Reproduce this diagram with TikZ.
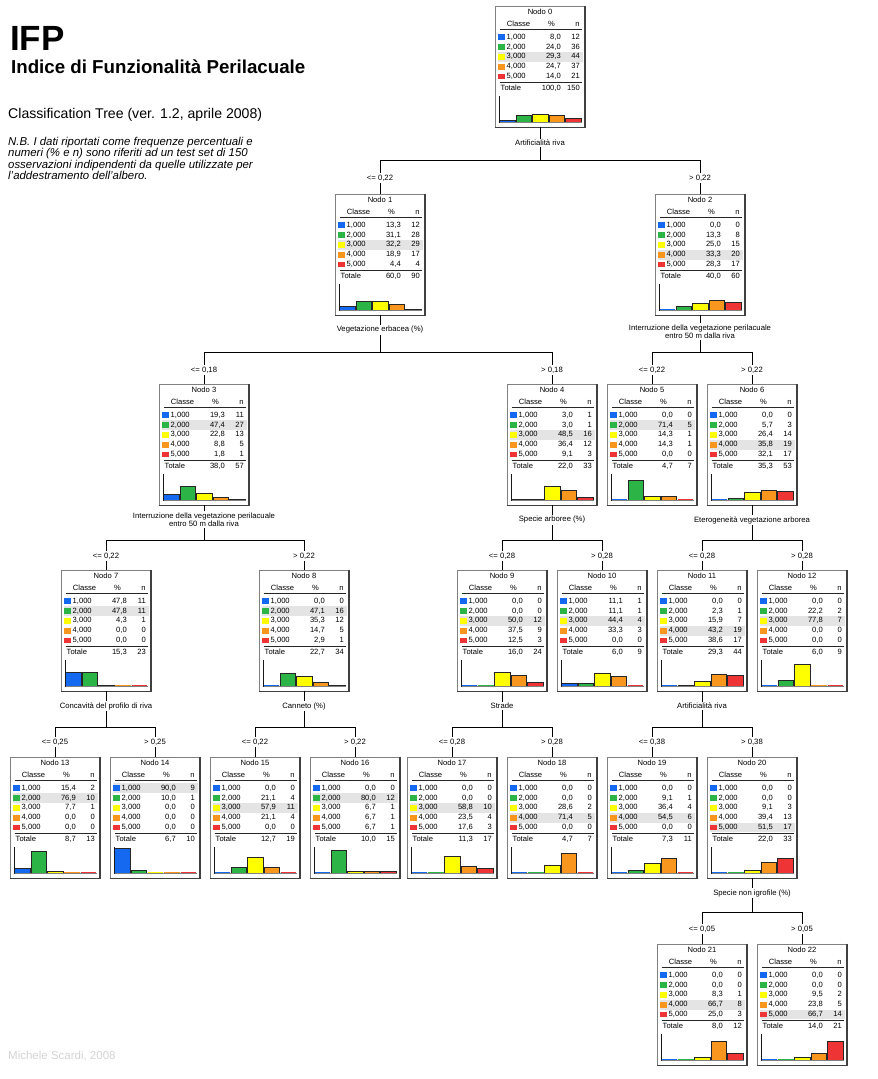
\documentclass[tikz,border=0pt]{standalone}
\usepackage{fontspec}
\setmainfont{Liberation Sans}
\definecolor{clr1}{RGB}{20,105,240}
\definecolor{clr2}{RGB}{45,180,70}
\definecolor{clr3}{RGB}{255,255,0}
\definecolor{clr4}{RGB}{248,150,30}
\definecolor{clr5}{RGB}{238,52,52}
\definecolor{hlc}{RGB}{228,228,228}
\tikzset{
  nodebox/.style={draw=black!50,line width=0.6pt,minimum width=89pt,minimum height=121pt,inner sep=0pt},
  boxshade/.style={draw=black!75,line width=1.5pt},
  txt/.style={inner sep=0pt,text height=5.3pt,text depth=1.5pt,font=\fontsize{7.6}{8}\selectfont},
  ttl/.style={txt},
  rulel/.style={line width=0.9pt,black!85},
  conn/.style={line width=0.8pt,black},
  slab/.style={fill=white,inner sep=1.2pt,align=center,font=\fontsize{7.7}{8.4}\selectfont},
  blab/.style={fill=white,inner sep=1.5pt,font=\fontsize{7.7}{8}\selectfont},
  bar/.style={draw=black!85,line width=0.5pt}
}
\newcommand\treeNode[8]{%
\begin{scope}[shift={(#2-44.5,#3)}]
 \node[nodebox] (#1) at (44.5,60.5) {};
 \draw[boxshade] (#1.north east) -- (#1.south east) -- (#1.south west);
 \fill[hlc] (2,{31.3+9.8*(#5-1)-4.9}) rectangle (87,{31.3+9.8*(#5-1)+4.9});
 \node[ttl] at (44.5,7) {Nodo #4};
 \node[txt] at (23,18.2) {Classe};
 \node[txt] at (56,18.2) {\%};
 \node[txt] at (82,18.2) {n};
 \draw[rulel] (4,23.5) -- (86,23.5);
 \foreach \a/\b/\n [count=\i] in {#6}{%
   \pgfmathsetmacro\yy{31.3+9.8*(\i-1)}
   \fill[clr\i] (2.5,\yy-2.9) rectangle (9.5,\yy+2.9);
   \node[txt,anchor=west] at (11,\yy) {\i,000};
   \node[txt,anchor=east] at (65.5,\yy) {\a,\b};
   \node[txt,anchor=east] at (84.5,\yy) {\n};
   \pgfmathsetmacro\hh{(\a.\b)*0.28}
   \pgfmathsetmacro\bx{4+16.5*(\i-1)}
   \ifdim\hh pt>0.01pt
     \filldraw[bar,fill=clr\i] (\bx,116) rectangle (\bx+15.6,116-\hh);
   \else
     \draw[clr\i,line width=1pt] (\bx,115.6) -- (\bx+15.6,115.6);
   \fi
 }
 \draw[rulel] (4,76.5) -- (86,76.5);
 \node[txt,anchor=west] at (5,83) {Totale};
 \node[txt,anchor=east] at (65.5,83) {#7};
 \node[txt,anchor=east] at (84.5,83) {#8};
 \draw[black!50,line width=0.6pt] (3,116.3) -- (86,116.3);
 \draw[black!90,line width=0.7pt] (3.5,90) -- (3.5,116.6);
\end{scope}}
\newcommand\treeSplit[9]{%
 \draw[conn] (#1.south) -- (#1.south |- 0,#2);
 \draw[conn] (#5.north) -- (#5.north |- 0,#2) -- (#6.north |- 0,#2) -- (#6.north);
 \node[slab] at (#1.south |- 0,#3) {#4};
 \node[blab] at (#5.north |- 0,#7) {#8};
 \node[blab] at (#6.north |- 0,#7) {#9};
}
\begin{document}
\begin{tikzpicture}[x=1pt,y=-1pt]
\useasboundingbox (0,0) rectangle (878,1079);
\fill[white] (0,0) rectangle (878,1079);
% header texts
\node[anchor=base west,inner sep=0pt,font=\bfseries\fontsize{35}{35}\selectfont] (tA) at (10,50) {IFP};
\node[anchor=base west,inner sep=0pt,font=\bfseries\fontsize{18.7}{18.7}\selectfont] (tB) at (11,73.3) {Indice di Funzionalità Perilacuale};
\node[anchor=base west,inner sep=0pt,font=\fontsize{14.1}{14.1}\selectfont] (tC) at (8,118.3) {Classification Tree (ver. 1.2, aprile 2008)};
\node[anchor=base west,inner sep=0pt,font=\itshape\fontsize{11.4}{11.5}\selectfont] (tD1) at (8,145) {N.B. I dati riportati come frequenze percentuali e};
\node[anchor=base west,inner sep=0pt,font=\itshape\fontsize{11.4}{11.5}\selectfont] (tD2) at (8,156.5) {numeri (\% e n) sono riferiti ad un test set di 150};
\node[anchor=base west,inner sep=0pt,font=\itshape\fontsize{11.4}{11.5}\selectfont] (tD3) at (8,168) {osservazioni indipendenti da quelle utilizzate per};
\node[anchor=base west,inner sep=0pt,font=\itshape\fontsize{11.4}{11.5}\selectfont] (tD4) at (8,179.5) {l'addestramento dell'albero.};
\node[anchor=base west,inner sep=0pt,text=black!17,font=\fontsize{11.5}{11.5}\selectfont] (tE) at (8,1059) {Michele Scardi, 2008};
% nodes
\treeNode{n0}{540}{6}{0}{3}{8/0/12,24/0/36,29/3/44,24/7/37,14/0/21}{100,0}{150}
\treeNode{n1}{380}{194}{1}{3}{13/3/12,31/1/28,32/2/29,18/9/17,4/4/4}{60,0}{90}
\treeNode{n2}{700}{194}{2}{4}{0/0/0,13/3/8,25/0/15,33/3/20,28/3/17}{40,0}{60}
\treeNode{n3}{204}{384}{3}{2}{19/3/11,47/4/27,22/8/13,8/8/5,1/8/1}{38,0}{57}
\treeNode{n4}{552}{384}{4}{3}{3/0/1,3/0/1,48/5/16,36/4/12,9/1/3}{22,0}{33}
\treeNode{n5}{652}{384}{5}{2}{0/0/0,71/4/5,14/3/1,14/3/1,0/0/0}{4,7}{7}
\treeNode{n6}{752}{384}{6}{4}{0/0/0,5/7/3,26/4/14,35/8/19,32/1/17}{35,3}{53}
\treeNode{n7}{106}{570}{7}{2}{47/8/11,47/8/11,4/3/1,0/0/0,0/0/0}{15,3}{23}
\treeNode{n8}{304}{570}{8}{2}{0/0/0,47/1/16,35/3/12,14/7/5,2/9/1}{22,7}{34}
\treeNode{n9}{502}{570}{9}{3}{0/0/0,0/0/0,50/0/12,37/5/9,12/5/3}{16,0}{24}
\treeNode{n10}{602}{570}{10}{3}{11/1/1,11/1/1,44/4/4,33/3/3,0/0/0}{6,0}{9}
\treeNode{n11}{702}{570}{11}{4}{0/0/0,2/3/1,15/9/7,43/2/19,38/6/17}{29,3}{44}
\treeNode{n12}{802}{570}{12}{3}{0/0/0,22/2/2,77/8/7,0/0/0,0/0/0}{6,0}{9}
\treeNode{n13}{55}{757}{13}{2}{15/4/2,76/9/10,7/7/1,0/0/0,0/0/0}{8,7}{13}
\treeNode{n14}{155}{757}{14}{1}{90/0/9,10/0/1,0/0/0,0/0/0,0/0/0}{6,7}{10}
\treeNode{n15}{255}{757}{15}{3}{0/0/0,21/1/4,57/9/11,21/1/4,0/0/0}{12,7}{19}
\treeNode{n16}{355}{757}{16}{2}{0/0/0,80/0/12,6/7/1,6/7/1,6/7/1}{10,0}{15}
\treeNode{n17}{452}{757}{17}{3}{0/0/0,0/0/0,58/8/10,23/5/4,17/6/3}{11,3}{17}
\treeNode{n18}{552}{757}{18}{4}{0/0/0,0/0/0,28/6/2,71/4/5,0/0/0}{4,7}{7}
\treeNode{n19}{652}{757}{19}{4}{0/0/0,9/1/1,36/4/4,54/5/6,0/0/0}{7,3}{11}
\treeNode{n20}{752}{757}{20}{5}{0/0/0,0/0/0,9/1/3,39/4/13,51/5/17}{22,0}{33}
\treeNode{n21}{702}{944}{21}{4}{0/0/0,0/0/0,8/3/1,66/7/8,25/0/3}{8,0}{12}
\treeNode{n22}{802}{944}{22}{5}{0/0/0,0/0/0,9/5/2,23/8/5,66/7/14}{14,0}{21}
% splits
\treeSplit{n0}{160}{143}{Artificialità riva}{n1}{n2}{178}{<= 0,22}{> 0,22}
\treeSplit{n1}{352}{330}{Vegetazione erbacea (\%)}{n3}{n4}{370}{<= 0,18}{> 0,18}
\treeSplit{n2}{352}{331.5}{Interruzione della vegetazione perilacuale\\entro 50 m dalla riva}{n5}{n6}{370}{<= 0,22}{> 0,22}
\treeSplit{n3}{540}{519.5}{Interruzione della vegetazione perilacuale\\entro 50 m dalla riva}{n7}{n8}{556}{<= 0,22}{> 0,22}
\treeSplit{n4}{540}{520}{Specie arboree (\%)}{n9}{n10}{556}{<= 0,28}{> 0,28}
\treeSplit{n6}{540}{520}{Eterogeneità vegetazione arborea}{n11}{n12}{556}{<= 0,28}{> 0,28}
\treeSplit{n7}{727}{706}{Concavità del profilo di riva}{n13}{n14}{742}{<= 0,25}{> 0,25}
\treeSplit{n8}{727}{706}{Canneto (\%)}{n15}{n16}{742}{<= 0,22}{> 0,22}
\treeSplit{n9}{727}{706}{Strade}{n17}{n18}{742}{<= 0,28}{> 0,28}
\treeSplit{n11}{727}{706}{Artificialità riva}{n19}{n20}{742}{<= 0,38}{> 0,38}
\treeSplit{n20}{912}{893}{Specie non igrofile (\%)}{n21}{n22}{929}{<= 0,05}{> 0,05}
\end{tikzpicture}
\end{document}
